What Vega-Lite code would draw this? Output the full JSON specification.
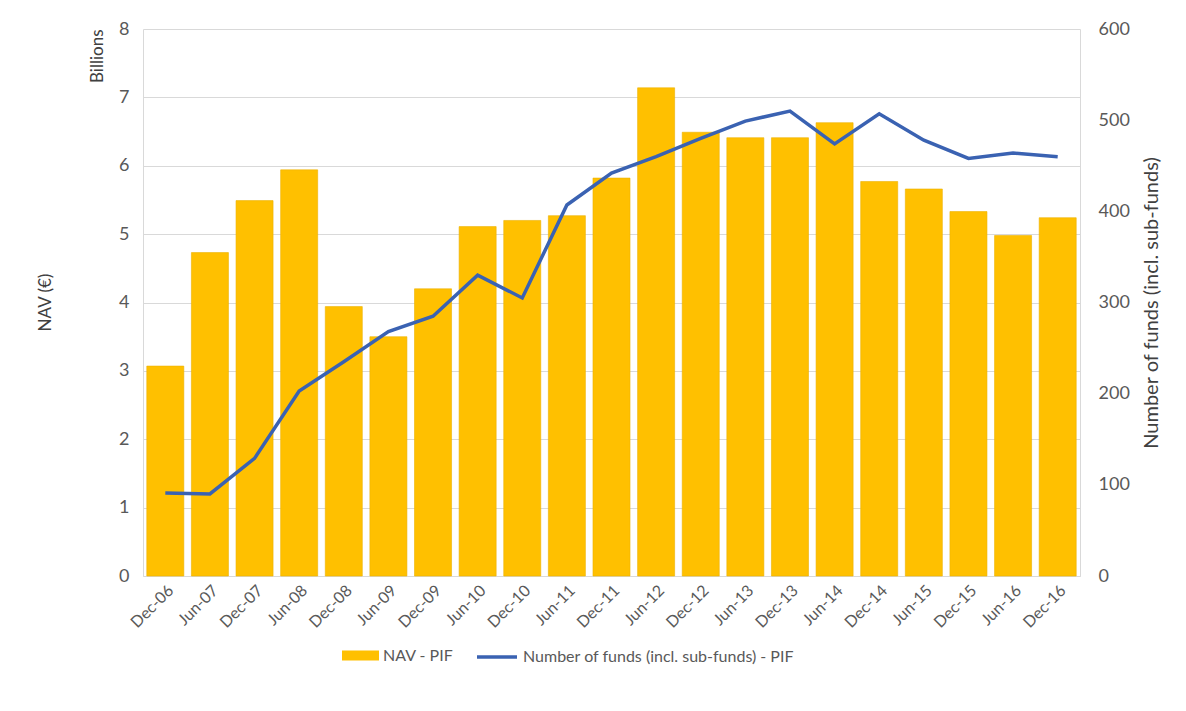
{
  "$schema": "https://vega.github.io/schema/vega-lite/v6.json",
  "autosize": {"type": "none"},
  "padding": {"left": 143, "top": 29, "right": 106, "bottom": 135},
  "width": 937,
  "height": 547,
  "background": "white",
  "title": {"text": "NAV (€)", "orient": "left", "anchor": "middle", "offset": 34, "fontSize": 17, "font": "Lato", "fontWeight": "normal", "color": "#404040"},
  "config": {
    "font": "Lato",
    "view": {"stroke": null},
    "axis": {"labelFont": "Lato", "titleFont": "Lato", "labelColor": "#595959", "titleColor": "#404040", "labelFontSize": 18, "titleFontSize": 17, "titleFontWeight": "normal", "gridColor": "#D9D9D9", "domainColor": "#D9D9D9", "ticks": false},
    "legend": {"labelFont": "Lato", "labelFontSize": 16, "labelColor": "#595959", "labelLimit": 0, "labelOffset": 4}
  },
  "data": {"values": [
    {"date": "Dec-06", "nav": 3.07, "funds": 91},
    {"date": "Jun-07", "nav": 4.73, "funds": 90},
    {"date": "Dec-07", "nav": 5.49, "funds": 129},
    {"date": "Jun-08", "nav": 5.94, "funds": 203},
    {"date": "Dec-08", "nav": 3.94, "funds": 235},
    {"date": "Jun-09", "nav": 3.50, "funds": 268},
    {"date": "Dec-09", "nav": 4.20, "funds": 285},
    {"date": "Jun-10", "nav": 5.11, "funds": 330},
    {"date": "Dec-10", "nav": 5.20, "funds": 305},
    {"date": "Jun-11", "nav": 5.27, "funds": 407},
    {"date": "Dec-11", "nav": 5.82, "funds": 442},
    {"date": "Jun-12", "nav": 7.14, "funds": 460},
    {"date": "Dec-12", "nav": 6.49, "funds": 480},
    {"date": "Jun-13", "nav": 6.41, "funds": 499},
    {"date": "Dec-13", "nav": 6.41, "funds": 510},
    {"date": "Jun-14", "nav": 6.63, "funds": 474},
    {"date": "Dec-14", "nav": 5.77, "funds": 507},
    {"date": "Jun-15", "nav": 5.66, "funds": 478},
    {"date": "Dec-15", "nav": 5.33, "funds": 458},
    {"date": "Jun-16", "nav": 4.98, "funds": 464},
    {"date": "Dec-16", "nav": 5.24, "funds": 460}
  ]},
  "encoding": {
    "x": {"field": "date", "type": "nominal", "sort": null,
      "scale": {"paddingInner": 0.17, "paddingOuter": 0.085},
      "axis": {"title": null, "labelAngle": -45, "labelPadding": 6, "domain": true, "labelFontSize": 16}}
  },
  "layer": [
    {
      "mark": {"type": "bar", "stroke": "#EDB200", "strokeWidth": 0.6},
      "encoding": {
        "y": {"field": "nav", "type": "quantitative", "scale": {"domain": [0, 8]},
          "axis": {"title": "Billions", "titleAnchor": "end", "titlePadding": 12, "titleFontSize": 17, "tickCount": 8, "labelPadding": 14, "grid": true, "domain": true}},
        "color": {"datum": "NAV - PIF", "type": "nominal",
          "scale": {"domain": ["NAV - PIF"], "range": ["#FFC000"]},
          "legend": {"title": null, "orient": "none", "legendX": 199, "legendY": 608, "direction": "horizontal",
            "symbolType": "M-1,-0.27H1V0.27H-1Z", "symbolSize": 1369, "symbolStrokeWidth": 0}}
      }
    },
    {
      "mark": {"type": "line", "strokeWidth": 3.5},
      "encoding": {
        "y": {"field": "funds", "type": "quantitative", "scale": {"domain": [0, 600]},
          "axis": {"title": "Number of funds (incl. sub-funds)", "orient": "right", "titleAngle": -90, "titleFontSize": 20, "titlePadding": 32, "tickCount": 6, "labelPadding": 18, "grid": false, "domain": true}},
        "color": {"datum": "Number of funds (incl. sub-funds) - PIF", "type": "nominal",
          "scale": {"domain": ["Number of funds (incl. sub-funds) - PIF"], "range": ["#3A62B2"]},
          "legend": {"title": null, "orient": "none", "legendX": 332, "legendY": 606, "direction": "horizontal",
            "symbolType": "stroke", "symbolSize": 1600, "symbolStrokeWidth": 3.5}}
      }
    }
  ],
  "resolve": {"scale": {"y": "independent", "color": "independent"}, "legend": {"color": "independent"}}
}
